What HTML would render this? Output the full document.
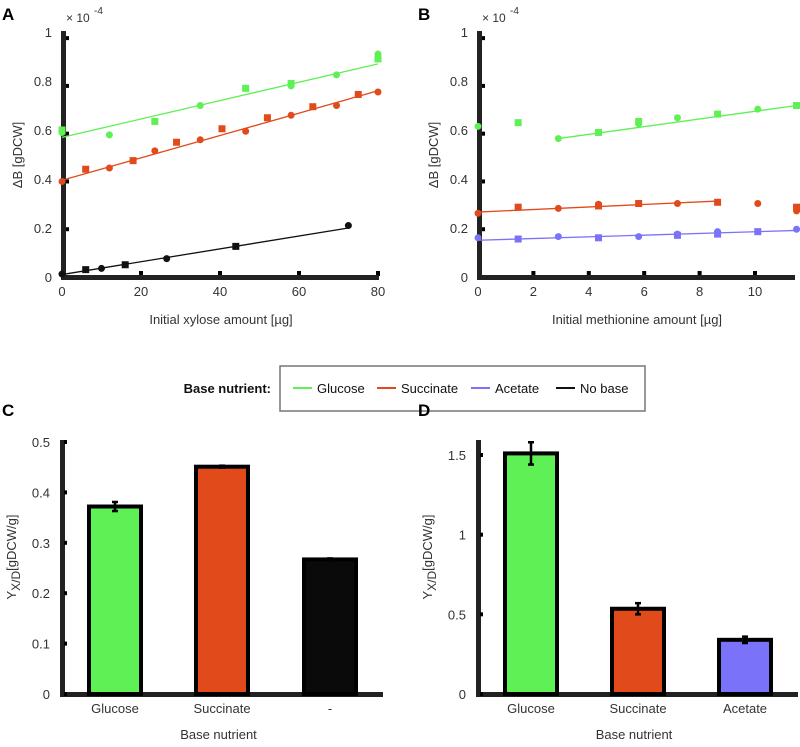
<!DOCTYPE html>
<html><head><meta charset="utf-8"><style>
body{margin:0;background:#fff;width:800px;height:742px;overflow:hidden;font-family:"Liberation Sans",sans-serif}
svg text{font-family:"Liberation Sans",sans-serif}
</style></head><body>
<svg id="fig" width="800" height="742"></svg>
<script>
// ---- data ----
const aGreenX=[0,0,12,23.5,35,46.5,58,58,69.5,80,80];
const aGreenY=[0.59,0.60,0.58,0.635,0.70,0.77,0.78,0.79,0.825,0.89,0.91];
const aGreenFit=[[0,0.57],[80,0.87]];
const aOrangeX=[0,6,12,18,23.5,29,35,40.5,46.5,52,58,63.5,69.5,75,80];
const aOrangeY=[0.39,0.44,0.445,0.475,0.515,0.55,0.56,0.605,0.595,0.65,0.66,0.695,0.70,0.745,0.755];
const aOrangeFit=[[0,0.395],[80,0.76]];
const aBlackX=[0,6,10,16,26.5,44,72.5];
const aBlackY=[0.012,0.03,0.035,0.05,0.075,0.125,0.21];
const aBlackFit=[[0,0.01],[72.5,0.2]];
const bGreenX=[0,1.45,2.9,4.35,5.8,5.8,7.2,8.65,10.1,11.5];
const bGreenY=[0.615,0.63,0.565,0.59,0.625,0.635,0.65,0.665,0.685,0.70];
const bGreenFit=[[2.9,0.565],[11.5,0.70]];
const bOrangeX=[0,1.45,2.9,4.35,4.35,5.8,7.2,8.65,10.1,11.5,11.5];
const bOrangeY=[0.26,0.285,0.28,0.29,0.297,0.3,0.3,0.305,0.3,0.285,0.27];
const bOrangeFit=[[0,0.265],[8.65,0.31]];
const bBlueX=[0,1.45,2.9,4.35,5.8,7.2,7.2,8.65,8.65,10.1,11.5];
const bBlueY=[0.16,0.155,0.165,0.16,0.165,0.17,0.175,0.175,0.185,0.185,0.195];
const bBlueFit=[[0,0.15],[11.5,0.19]];
const aXTicks=[0,20,40,60,80];
const bXTicks=[0,2,4,6,8,10];
const yTicksAB=[0,0.2,0.4,0.6,0.8,1];
const cCats=["Glucose","Succinate","-"];
const cVals=[0.372,0.451,0.267];
const cErr=[0.009,0.002,0.002];
const dCats=["Glucose","Succinate","Acetate"];
const dVals=[1.51,0.535,0.34];
const dErr=[0.07,0.035,0.02];
const cTicks=[0,0.1,0.2,0.3,0.4,0.5];
const dTicks=[0,0.5,1,1.5];

const G="#5ef054",O="#e14a1a",B="#7b72fa",K="#111";
const svg=document.getElementById('fig');
const NS="http://www.w3.org/2000/svg";
function mk(t,a,name,parent){const e=document.createElementNS(NS,t);for(const k in a)e.setAttribute(k,a[k]);


(parent||svg).appendChild(e);return e;}
function txt(x,y,s,name,o){o=o||{};const e=mk('text',{x:x,y:y,'font-size':o.fs||13,fill:o.fill||'#333','text-anchor':o.anchor||'middle','font-weight':o.fw||'normal'},name);if(o.tr)e.setAttribute('transform',o.tr);e.textContent=s;return e;}

// scatter panels
const yAB=v=>277-v*245;
function scatterPanel(x0,xs,ticks,xlabel,letter,series){
  const xf=v=>x0+v*xs;
  const xmax=xf(ticks[ticks.length-1])+(letter==='B'?41:2);
  txt(x0-60,20,letter,'panel-label-'+letter.toLowerCase(),{fs:17,fw:'bold',fill:'#000',anchor:'start'});
  txt(x0+4,22,'× 10','exponent-label',{fs:12,anchor:'start'});
  txt(x0+32,14,'-4','exponent-power',{fs:10,anchor:'start'});
  yTicksAB.forEach(v=>{txt(x0-10,yAB(v)+5,String(v),'y-tick-label',{anchor:'end'});
    mk('rect',{x:x0+3,y:yAB(v*0.975)-2,width:4,height:4,fill:'#000'},'y-tick');});
  ticks.forEach(v=>{txt(xf(v),296,String(v),'x-tick-label');
    if(v>0)mk('rect',{x:xf(v)-2,y:271,width:4,height:5,fill:'#000'},'x-tick');});
  mk('rect',{x:x0-1,y:31,width:5,height:249,fill:'#222'},'y-axis');
  mk('rect',{x:x0-1,y:275,width:xmax-x0,height:5,fill:'#222'},'x-axis');
  txt(x0-40,155,'ΔB [gDCW]','y-axis-title',{tr:`rotate(-90 ${x0-40} 155)`});
  txt((x0+xmax)/2,324,xlabel,'x-axis-title');
  series.forEach(s=>{
    mk('line',{x1:xf(s.fit[0][0]),y1:yAB(s.fit[0][1]),x2:xf(s.fit[1][0]),y2:yAB(s.fit[1][1]),stroke:s.c,'stroke-width':1.3},s.n+'-fit-line');
    s.x.forEach((v,i)=>{const cx=xf(v),cy=yAB(s.y[i]);
      if(i%2)mk('rect',{x:cx-3.5,y:cy-3.5,width:7,height:7,fill:s.c},s.n+'-point');
      else mk('circle',{cx:cx,cy:cy,r:3.5,fill:s.c},s.n+'-point');});
  });
}
scatterPanel(62,3.95,aXTicks,'Initial xylose amount [µg]','A',[
 {x:aGreenX,y:aGreenY,fit:aGreenFit,c:G,n:'glucose'},
 {x:aOrangeX,y:aOrangeY,fit:aOrangeFit,c:O,n:'succinate'},
 {x:aBlackX,y:aBlackY,fit:aBlackFit,c:K,n:'no-base'}]);
scatterPanel(478,27.7,bXTicks,'Initial methionine amount [µg]','B',[
 {x:bGreenX,y:bGreenY,fit:bGreenFit,c:G,n:'glucose'},
 {x:bOrangeX,y:bOrangeY,fit:bOrangeFit,c:O,n:'succinate'},
 {x:bBlueX,y:bBlueY,fit:bBlueFit,c:B,n:'acetate'}]);

// legend
txt(271,393,'Base nutrient:','legend-title',{fs:13,fw:'bold',fill:'#111',anchor:'end'});
mk('rect',{x:280,y:366,width:365,height:45,fill:'#fff',stroke:'#777','stroke-width':1.5},'legend-box');
[['Glucose',G,293],['Succinate',O,377],['Acetate',B,471],['No base',K,556]].forEach(l=>{
  mk('line',{x1:l[2],y1:388,x2:l[2]+19,y2:388,stroke:l[1],'stroke-width':2},'legend-line');
  txt(l[2]+24,393,l[0],'legend-entry',{anchor:'start',fill:'#111'});
});

// bar panels
function barPanel(x0,xEnd,ymax,ticks,cats,vals,errs,colors,centers,letter){
  const yf=v=>694-v/ymax*(694-(letter==='C'?442:455));
  txt(x0-60,416,letter,'panel-label-'+letter.toLowerCase(),{fs:17,fw:'bold',fill:'#000',anchor:'start'});
  mk('rect',{x:x0-2,y:440,width:5,height:256,fill:'#222'},'y-axis');
  mk('rect',{x:x0-2,y:692,width:xEnd-x0,height:5,fill:'#222'},'x-axis');
  ticks.forEach(v=>{txt(x0-12,yf(v)+5,String(v),'y-tick-label',{anchor:'end'});
    mk('rect',{x:x0+2,y:yf(v)-2,width:3,height:4,fill:'#000'},'y-tick');});
  cats.forEach((c,i)=>{const cx=centers[i],y=yf(vals[i]);
    mk('rect',{x:cx-26,y:y,width:52,height:694-y,fill:colors[i],stroke:'#000','stroke-width':4},'bar-'+c.replace('-','none').toLowerCase());
    const y1=yf(vals[i]+errs[i]),y2=yf(vals[i]-errs[i]);
    mk('line',{x1:cx,y1:y1,x2:cx,y2:y2,stroke:'#000','stroke-width':2.5},'error-bar');
    mk('line',{x1:cx-3,y1:y1,x2:cx+3,y2:y1,stroke:'#000','stroke-width':2.5},'error-cap');
    mk('line',{x1:cx-3,y1:y2,x2:cx+3,y2:y2,stroke:'#000','stroke-width':2.5},'error-cap');
    txt(cx,713,c,'x-tick-label');
  });
  txt((x0+xEnd)/2-5,739,'Base nutrient','x-axis-title');
  const lx=x0-46;
  const t=mk('text',{x:lx,y:557,'font-size':13,fill:'#333','text-anchor':'middle',transform:`rotate(-90 ${lx} 557)`},'y-axis-title');
  t.innerHTML='Y<tspan dy="4" font-size="12">X/D</tspan><tspan dy="-4">[gDCW/g]</tspan>';
}
barPanel(62,385,0.5,cTicks,cCats,cVals,cErr,[G,O,'#0a0a0a'],[115,222,330],'C');
barPanel(478,800,1.5,dTicks,dCats,dVals,dErr,[G,O,B],[531,638,745],'D');
</script>
</body></html>
